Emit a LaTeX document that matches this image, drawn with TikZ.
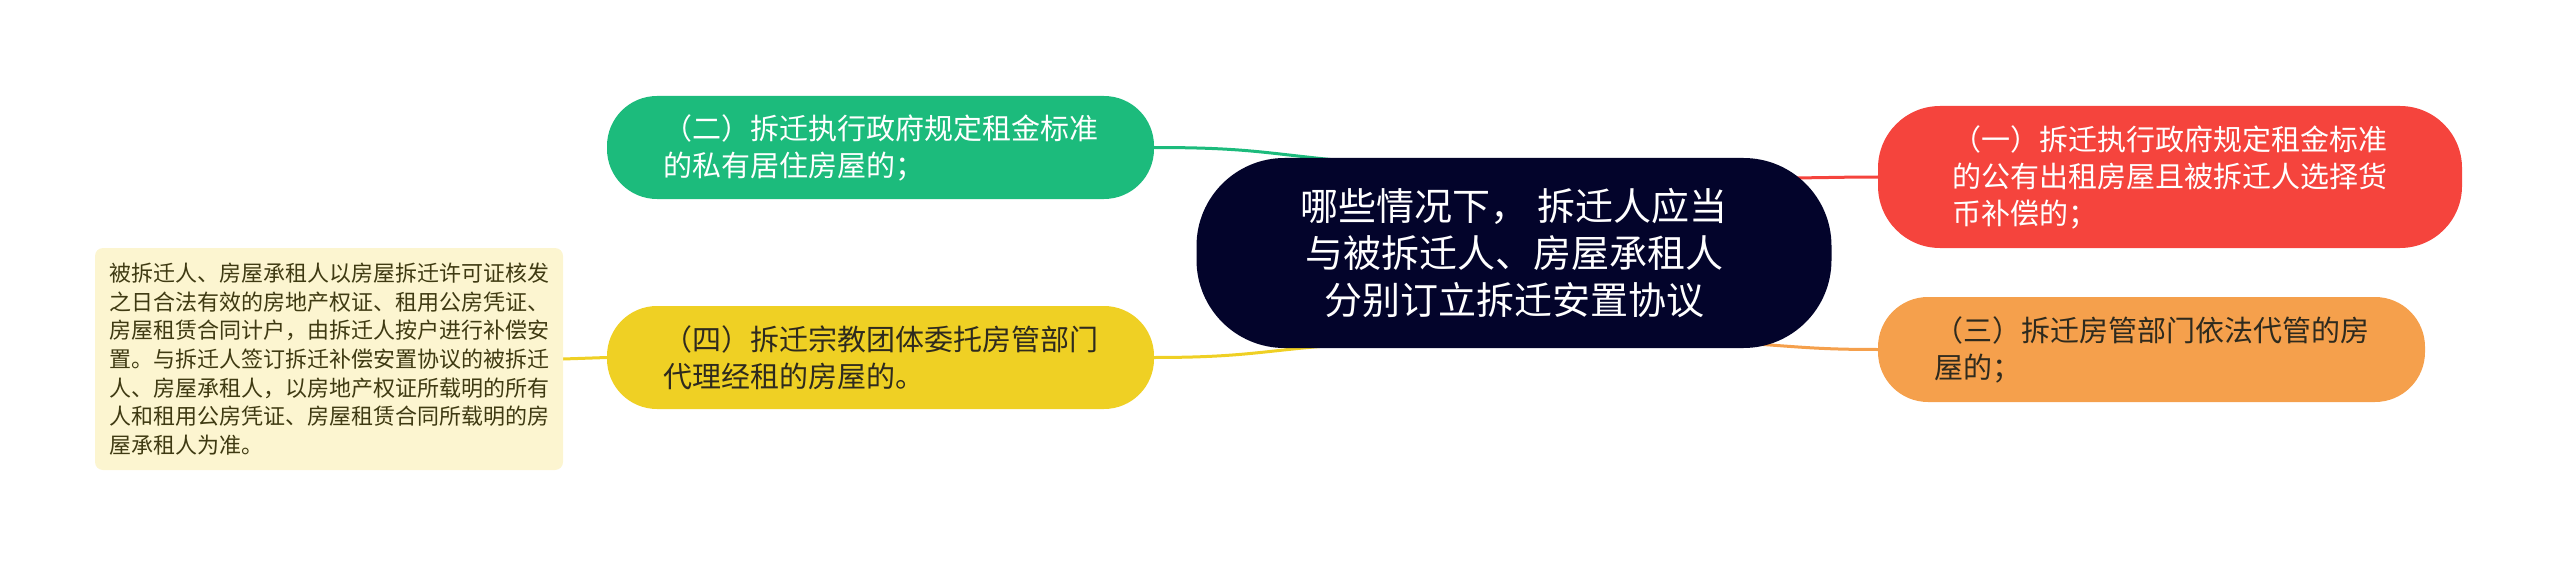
\documentclass[tikz,border=0pt]{standalone}
\usepackage{fontspec}
\setmainfont{Noto Sans CJK SC}
\usepackage{xcolor}
\usetikzlibrary{backgrounds}

\definecolor{rootblue}{HTML}{03042B}
\definecolor{topicgreen}{HTML}{1CBB7C}
\definecolor{topicyellow}{HTML}{EFD024}
\definecolor{topicred}{HTML}{F5443D}
\definecolor{topicorange}{HTML}{F5A04C}
\definecolor{notefill}{HTML}{FCF5D0}
\definecolor{notetext}{HTML}{3F3A12}
\definecolor{darktext}{HTML}{2E2A1E}

\begin{document}
\begin{tikzpicture}[x=1pt,y=-1pt,inner sep=0,outer sep=0,
    topic/.style={rounded corners=50pt,minimum width=547pt,minimum height=103pt,
      text width=435pt,align=left,font=\fontsize{29}{37}\selectfont},
    branch/.style={line width=3pt,line cap=round}]

    \useasboundingbox (0,0) rectangle (2560,567);

    % The root
    \node[fill=rootblue,text=white,rounded corners=88pt,minimum width=635pt,minimum height=190pt,
      align=center,font=\fontsize{38}{47}\selectfont] (root) at (1514,253)
      {哪些情况下， 拆迁人应当\\与被拆迁人、房屋承租人\\分别订立拆迁安置协议};

    % Left topics
    \node[topic,fill=topicgreen,text=white] (two) at (880.5,147.5)
      {（二）拆迁执行政府规定租金标准\\的私有居住房屋的；};
    \node[topic,fill=topicyellow,text=darktext] (four) at (880.5,357.5)
      {（四）拆迁宗教团体委托房管部门\\代理经租的房屋的。};

    % Right topics
    \node[topic,fill=topicred,text=white,rounded corners=62pt,minimum width=584pt,minimum height=142pt] (one) at (2170,177)
      {（一）拆迁执行政府规定租金标准\\的公有出租房屋且被拆迁人选择货\\币补偿的；};
    \node[topic,fill=topicorange,text=darktext,minimum height=105pt] (three) at (2151.5,349.5)
      {（三）拆迁房管部门依法代管的房\\屋的；};

    % Note
    \node[fill=notefill,text=notetext,rounded corners=8pt,minimum width=468pt,minimum height=222pt,
      text width=440pt,align=left,font=\fontsize{22}{28.6}\selectfont] (note) at (329,359)
      {被拆迁人、房屋承租人以房屋拆迁许可证核发\\之日合法有效的房地产权证、租用公房凭证、\\房屋租赁合同计户，由拆迁人按户进行补偿安\\置。与拆迁人签订拆迁补偿安置协议的被拆迁\\人、房屋承租人，以房地产权证所载明的所有\\人和租用公房凭证、房屋租赁合同所载明的房\\屋承租人为准。};

    % Connectors
    \begin{pgfonlayer}{background}
      \draw[branch,topicgreen] (two.east) .. controls +(100,0) and +(-90,-8) .. ([xshift=160pt,yshift=-4pt]root.north west);
      \draw[branch,topicyellow] (four.east) .. controls +(100,0) and +(-90,5) .. ([xshift=160pt,yshift=4pt]root.south west);
      \draw[branch,topicred] ([xshift=-60pt,yshift=75pt]root.east) .. controls +(50,0) and +(-40,0) .. (one.west);
      \draw[branch,topicorange] ([xshift=-90pt,yshift=-90pt]root.east) .. controls +(60,4) and +(-60,0) .. (three.west);
      \draw[branch,topicyellow] (note.east) -- (four.west);
    \end{pgfonlayer}

\end{tikzpicture}
\end{document}
